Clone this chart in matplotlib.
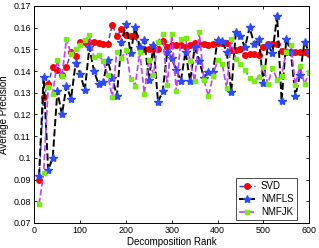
import numpy as np
import matplotlib
matplotlib.use("Agg")
import matplotlib.pyplot as plt

plt.rcParams['font.family'] = ['Liberation Sans', 'DejaVu Sans']

# decomposition ranks 10..600 step 10
rank = list(range(10, 601, 10))

svd = [0.090, 0.128, 0.134, 0.142, 0.1403, 0.138, 0.142, 0.1488, 0.1471, 0.1532,
       0.1536, 0.1536, 0.1533, 0.153, 0.1525, 0.1524, 0.1613, 0.156, 0.1593, 0.1567,
       0.156, 0.156, 0.1506, 0.150, 0.150, 0.150, 0.150, 0.154, 0.1513, 0.1518,
       0.1518, 0.1518, 0.151, 0.1521, 0.1527, 0.1523, 0.1523, 0.1521, 0.1523, 0.1527,
       0.1527, 0.153, 0.1495, 0.1495, 0.150, 0.1475, 0.1478, 0.1478, 0.1475, 0.151,
       0.1523, 0.1523, 0.1523, 0.1494, 0.149, 0.149, 0.149, 0.149, 0.1487, 0.148]

nmfls = [0.0915, 0.1371, 0.0943, 0.1001, 0.1307, 0.120, 0.133, 0.1273, 0.1437, 0.1387,
         0.1311, 0.151, 0.1399, 0.1341, 0.1348, 0.1452, 0.1368, 0.1287, 0.1533, 0.1617,
         0.1483, 0.1602, 0.1513, 0.1541, 0.1361, 0.1518, 0.1256, 0.1307, 0.1486, 0.146,
         0.1403, 0.1356, 0.149, 0.1353, 0.1509, 0.1448, 0.137, 0.1395, 0.1396, 0.1544,
         0.1538, 0.1488, 0.1305, 0.1582, 0.156, 0.1509, 0.1602, 0.1524, 0.1549, 0.1345,
         0.152, 0.1483, 0.1656, 0.1261, 0.1547, 0.149, 0.1284, 0.1384, 0.1536, 0.1486]

nmfjk = [0.0787, 0.0928, 0.1326, 0.1296, 0.1449, 0.1376, 0.1549, 0.1478, 0.150, 0.1518,
         0.1541, 0.1564, 0.1465, 0.1475, 0.1445, 0.1384, 0.128, 0.149, 0.146, 0.1495,
         0.1365, 0.1333, 0.1488, 0.1296, 0.1452, 0.1384, 0.1536, 0.157, 0.1334, 0.157,
         0.1307, 0.1549, 0.1552, 0.1445, 0.1353, 0.158, 0.1361, 0.1284, 0.1376, 0.1452,
         0.1433, 0.1322, 0.1547, 0.1455, 0.1433, 0.1406, 0.1368, 0.1356, 0.1371, 0.1417,
         0.134, 0.1414, 0.1361, 0.1379, 0.149, 0.1521, 0.1338, 0.1422, 0.134, 0.1394]

fig = plt.figure(figsize=(3.19, 2.48), dpi=100)
ax = fig.add_axes([0.108, 0.101, 0.861, 0.875])

ax.plot(rank, svd, '--', color='#2040ff', lw=1.0, marker='o', ms=4,
        mfc='#ff0000', mec='#ff0000', label='SVD')
ax.plot(rank, nmfls, '--', color='black', lw=1.4, marker='*', ms=6,
        mfc='#2a4bff', mec='#2a4bff', label='NMFLS')
ax.plot(rank, nmfjk, '--', color='#c040ff', lw=1.2, marker='s', ms=3.3,
        mfc='#77ee11', mec='#77ee11', label='NMFJK')

ax.set_xlim(0, 600)
ax.set_ylim(0.07, 0.17)
ax.set_xticks(range(0, 601, 100))
ax.set_yticks(np.arange(0.07, 0.1701, 0.01))
ax.set_yticklabels(['0.07', '0.08', '0.09', '0.1', '0.11', '0.12', '0.13',
                    '0.14', '0.15', '0.16', '0.17'])
ax.tick_params(direction='in', top=True, right=True, labelsize=6.4, length=2, width=0.6,
               pad=2.5)
for s in ax.spines.values():
    s.set_linewidth(0.7)

ax.set_xlabel('Decomposition Rank', fontsize=7, labelpad=1)
ax.set_ylabel('Average Precision', fontsize=7, labelpad=3)

leg = ax.legend(loc='lower right', bbox_to_anchor=(0.956, 0.012), fontsize=7,
                frameon=True, fancybox=False, handlelength=1.65, borderpad=0.35,
                labelspacing=0.3, handletextpad=0.6, borderaxespad=0)
leg.get_frame().set_edgecolor('black')
leg.get_frame().set_linewidth(0.6)

fig.savefig('out.png', dpi=100)
